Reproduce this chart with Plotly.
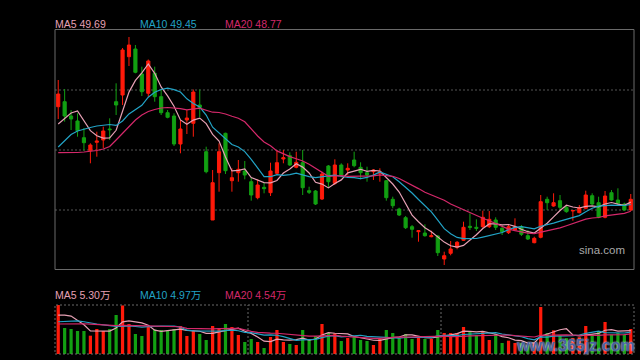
import plotly.graph_objects as go

# ---------------- data (price panel) ----------------
day_index = list(range(90))

open_px = [59.23, 59.73, 58.30, 57.80, 56.13, 54.83, 55.67, 55.90, 57.00, 59.73,
           60.40, 64.23, 65.00, 62.50, 60.57, 62.57, 60.23, 58.63, 58.30, 55.50,
           57.90, 57.57, 59.40, 54.73, 47.90, 52.63, 56.57, 51.83, 52.63, 52.80,
           51.73, 50.13, 51.17, 50.63, 52.57, 54.00, 54.33, 53.17, 53.63, 50.83,
           50.80, 50.00, 53.30, 51.57, 53.40, 52.90, 53.90, 53.17, 52.63, 52.73,
           52.57, 51.83, 49.97, 49.00, 48.13, 47.23, 46.73, 46.60, 46.23, 46.30,
           44.00, 44.57, 45.17, 45.87, 47.27, 47.17, 47.23, 47.23, 47.90, 47.07,
           46.63, 46.90, 47.23, 46.33, 45.63, 46.17, 49.97, 49.30, 49.83, 49.17,
           48.80, 48.63, 49.07, 50.33, 49.63, 48.17, 50.63, 49.90, 49.50, 48.90]

high_px = [61.90, 61.00, 58.90, 58.57, 57.10, 55.57, 56.73, 57.23, 58.07, 61.57,
           65.10, 66.20, 65.40, 63.23, 63.95, 63.23, 60.90, 58.90, 58.57, 57.90,
           58.90, 60.95, 60.95, 55.23, 52.90, 55.57, 56.63, 53.07, 53.90, 53.80,
           52.17, 51.97, 51.63, 53.63, 54.90, 54.90, 54.67, 54.73, 54.90, 51.23,
           50.90, 52.73, 53.40, 53.97, 53.57, 53.57, 54.73, 53.67, 53.23, 52.97,
           53.07, 51.90, 50.23, 49.13, 48.30, 47.40, 46.90, 47.47, 46.83, 46.40,
           44.73, 45.80, 45.80, 47.73, 48.57, 47.97, 48.83, 48.80, 48.17, 47.40,
           47.40, 48.07, 47.40, 46.90, 46.23, 50.40, 50.23, 50.57, 50.40, 49.40,
           48.90, 49.40, 50.83, 50.57, 50.23, 50.80, 50.90, 51.07, 49.63, 50.50]

low_px = [58.00, 57.73, 56.90, 56.23, 54.83, 53.57, 54.23, 55.10, 55.90, 58.40,
          59.40, 63.30, 62.57, 60.30, 60.23, 59.73, 58.40, 58.07, 55.30, 54.57,
          56.50, 56.23, 58.20, 52.57, 47.90, 50.73, 52.50, 50.73, 51.73, 51.97,
          49.83, 49.97, 50.57, 50.30, 52.40, 53.57, 53.30, 53.07, 50.40, 50.50,
          49.40, 49.90, 51.17, 51.40, 52.17, 52.40, 53.17, 51.97, 51.73, 51.90,
          51.73, 49.83, 49.07, 48.30, 47.00, 46.13, 45.73, 46.23, 46.17, 44.30,
          43.40, 44.37, 44.97, 45.80, 46.90, 46.80, 47.13, 47.10, 46.90, 46.40,
          46.50, 46.83, 46.30, 45.90, 45.57, 46.07, 48.90, 49.23, 48.90, 48.63,
          47.83, 48.57, 48.97, 49.40, 48.07, 48.07, 49.83, 49.40, 48.83, 48.80]

close_px = [60.50, 58.30, 58.00, 56.83, 55.63, 55.40, 55.80, 56.80, 56.93, 59.40,
            64.90, 65.40, 62.67, 60.73, 63.80, 60.23, 58.63, 58.17, 55.50, 57.00,
            58.10, 60.70, 59.15, 52.73, 51.63, 54.73, 52.83, 52.13, 52.97, 52.40,
            50.40, 51.40, 51.03, 52.80, 53.63, 54.13, 53.40, 53.67, 51.13, 50.67,
            49.50, 52.50, 51.73, 53.40, 52.40, 53.07, 53.33, 52.63, 52.40, 52.90,
            52.73, 50.13, 49.33, 48.40, 47.13, 46.97, 46.83, 46.33, 46.33, 44.63,
            44.33, 45.00, 45.67, 47.17, 47.17, 47.07, 48.17, 47.97, 47.17, 46.73,
            47.23, 47.23, 46.47, 46.00, 46.07, 49.73, 49.63, 49.63, 49.17, 48.73,
            48.85, 49.13, 50.40, 49.50, 48.17, 50.30, 49.90, 49.57, 48.90, 49.97]

ma5_px = [57.50, 58.05, 58.60, 58.80, 57.85, 56.83, 56.33, 56.09, 56.11, 56.87,
          58.77, 60.69, 61.86, 62.62, 63.50, 62.57, 61.21, 60.31, 59.27, 57.91,
          57.48, 57.89, 58.09, 57.54, 56.46, 55.79, 54.21, 52.81, 52.86, 53.01,
          52.15, 51.86, 51.64, 51.61, 51.85, 52.60, 53.00, 53.53, 53.19, 52.60,
          51.67, 51.49, 51.11, 51.56, 51.91, 52.62, 52.79, 52.97, 52.77, 52.87,
          52.80, 52.16, 51.50, 50.70, 49.54, 48.39, 47.73, 47.13, 46.72, 46.22,
          45.69, 45.32, 45.19, 45.36, 45.87, 46.42, 47.05, 47.51, 47.51, 47.42,
          47.45, 47.27, 46.97, 46.73, 46.60, 47.10, 47.58, 48.21, 48.85, 49.38,
          49.20, 49.10, 49.26, 49.32, 49.21, 49.50, 49.65, 49.49, 49.37, 49.69]

ma10_px = [55.20, 55.85, 56.45, 56.80, 57.00, 57.15, 57.30, 57.40, 57.45, 57.36,
           57.80, 58.51, 58.98, 59.37, 60.18, 60.67, 60.95, 61.09, 60.94, 60.70,
           60.02, 59.55, 59.20, 58.40, 57.18, 56.63, 56.05, 55.45, 55.20, 54.74,
           53.97, 53.04, 52.23, 52.23, 52.43, 52.37, 52.43, 52.58, 52.40, 52.23,
           52.14, 52.25, 52.32, 52.38, 52.25, 52.15, 52.14, 52.04, 52.16, 52.39,
           52.71, 52.47, 52.23, 51.73, 51.21, 50.60, 49.95, 49.32, 48.71, 47.88,
           47.04, 46.53, 46.16, 46.04, 46.04, 46.05, 46.19, 46.35, 46.44, 46.65,
           46.94, 47.16, 47.24, 47.12, 47.01, 47.28, 47.42, 47.59, 47.79, 47.99,
           48.15, 48.34, 48.73, 49.08, 49.29, 49.35, 49.38, 49.37, 49.35, 49.45]

ma20_px = [54.63, 54.62, 54.62, 54.65, 54.70, 54.75, 54.85, 55.00, 55.25, 55.90,
           56.60, 57.30, 57.90, 58.40, 58.75, 58.95, 59.10, 59.15, 59.12, 59.03,
           58.91, 59.03, 59.09, 58.88, 58.68, 58.65, 58.50, 58.27, 58.07, 57.72,
           56.99, 56.30, 55.71, 55.32, 54.81, 54.50, 54.24, 54.02, 53.80, 53.48,
           53.05, 52.64, 52.27, 52.30, 52.34, 52.26, 52.28, 52.31, 52.28, 52.31,
           52.42, 52.36, 52.27, 52.05, 51.73, 51.37, 51.04, 50.68, 50.44, 50.13,
           49.88, 49.50, 49.20, 48.89, 48.62, 48.32, 48.07, 47.83, 47.57, 47.26,
           46.99, 46.84, 46.70, 46.58, 46.53, 46.67, 46.80, 46.97, 47.11, 47.32,
           47.54, 47.75, 47.99, 48.10, 48.15, 48.31, 48.40, 48.48, 48.57, 48.77]

# ---------------- data (volume panel, unit: 万) ----------------
volume_wan = [11.10, 5.89, 5.66, 5.21, 5.21, 4.15, 5.66, 5.21, 5.66, 8.83,
              11.00, 6.80, 4.53, 4.08, 6.12, 5.51, 5.44, 5.29, 5.66, 6.34,
              4.08, 5.21, 4.53, 3.17, 6.34, 5.81, 6.80, 6.12, 4.30, 2.72,
              3.40, 2.72, 1.36, 3.85, 5.44, 2.72, 2.27, 2.04, 5.44, 3.17,
              4.08, 6.80, 4.76, 4.68, 2.94, 3.62, 3.85, 3.17, 2.94, 2.04,
              3.40, 5.44, 4.76, 3.62, 4.53, 3.40, 3.62, 3.40, 3.40, 5.44,
              4.76, 4.76, 4.76, 6.12, 5.21, 4.30, 5.21, 3.17, 4.53, 2.49,
              3.02, 2.49, 2.50, 2.00, 2.50, 10.65, 4.76, 5.36, 4.23, 3.60,
              3.60, 3.80, 6.34, 4.38, 5.13, 7.25, 4.38, 4.76, 4.38, 5.66]

vol_ma5 = [8.80, 8.80, 8.60, 7.70, 6.61, 5.22, 5.18, 5.09, 5.18, 5.90,
           7.27, 7.50, 7.36, 7.05, 6.51, 5.41, 5.14, 5.29, 5.60, 5.65,
           5.36, 5.32, 5.16, 4.67, 4.67, 5.01, 5.33, 5.65, 5.87, 5.15,
           4.67, 3.85, 2.90, 2.81, 3.35, 3.22, 3.13, 3.26, 3.58, 3.13,
           3.40, 4.31, 4.85, 4.70, 4.65, 4.56, 3.97, 3.65, 3.30, 3.12,
           3.08, 3.40, 3.72, 3.85, 4.35, 4.35, 3.99, 3.71, 3.67, 3.85,
           4.12, 4.35, 4.62, 5.17, 5.12, 5.03, 5.12, 4.80, 4.48, 3.94,
           3.68, 3.14, 3.01, 2.50, 2.50, 4.03, 4.48, 5.05, 5.50, 5.72,
           4.31, 4.12, 4.31, 4.34, 4.65, 5.38, 5.50, 5.18, 5.18, 5.30]

vol_ma10 = [7.30, 7.35, 7.45, 7.50, 7.30, 7.00, 6.80, 6.60, 6.40, 6.26,
            6.25, 6.34, 6.23, 6.11, 6.20, 6.34, 6.32, 6.33, 6.33, 6.08,
            5.39, 5.23, 5.23, 5.14, 5.16, 5.19, 5.32, 5.41, 5.27, 4.91,
            4.84, 4.59, 4.27, 4.34, 4.25, 3.94, 3.49, 3.08, 3.20, 3.24,
            3.31, 3.72, 4.06, 4.14, 3.89, 3.98, 4.14, 4.25, 4.00, 3.89,
            3.82, 3.68, 3.68, 3.58, 3.74, 3.72, 3.69, 3.72, 3.76, 4.10,
            4.24, 4.17, 4.17, 4.42, 4.49, 4.58, 4.74, 4.71, 4.83, 4.53,
            4.36, 4.13, 3.90, 3.49, 3.22, 3.86, 3.81, 4.03, 4.00, 4.11,
            4.17, 4.30, 4.68, 4.92, 5.19, 4.85, 4.81, 4.75, 4.76, 4.97]

vol_ma20 = [6.80, 6.85, 6.90, 6.90, 6.85, 6.75, 6.65, 6.55, 6.50, 6.45,
            6.50, 6.50, 6.45, 6.40, 6.35, 6.30, 6.30, 6.25, 6.20, 6.17,
            5.82, 5.78, 5.73, 5.62, 5.68, 5.76, 5.82, 5.87, 5.80, 5.49,
            5.11, 4.91, 4.75, 4.74, 4.70, 4.57, 4.41, 4.24, 4.23, 4.07,
            4.07, 4.15, 4.17, 4.24, 4.07, 3.96, 3.81, 3.67, 3.60, 3.56,
            3.56, 3.70, 3.87, 3.86, 3.81, 3.85, 3.92, 3.98, 3.88, 3.99,
            4.03, 3.93, 3.93, 4.00, 4.11, 4.15, 4.21, 4.21, 4.29, 4.32,
            4.30, 4.15, 4.04, 3.96, 3.85, 4.22, 4.27, 4.37, 4.41, 4.32,
            4.26, 4.22, 4.29, 4.21, 4.20, 4.35, 4.31, 4.39, 4.38, 4.54]

price_labels = ["MA5 49.69", "MA10 49.45", "MA20 48.77"]
volume_labels = ["MA5 5.30万", "MA10 4.97万", "MA20 4.54万"]
grid_prices = [60.9, 54.9, 48.9]
volume_dividers = [29.5, 59.5]

# ---------------- styles ----------------
RED = "#ff1a0a"
GREEN = "#12a012"
C_MA5 = "#e6a0b4"
C_MA10 = "#22a3c6"
C_MA20 = "#d4286a"
W, H = 640, 360
px_x = lambda p: p / W
px_y = lambda p: 1 - p / H

fig = go.Figure()

fig.add_trace(go.Candlestick(
    x=day_index, open=open_px, high=high_px, low=low_px, close=close_px,
    increasing=dict(line=dict(color=RED, width=1), fillcolor=RED),
    decreasing=dict(line=dict(color=GREEN, width=1), fillcolor=GREEN),
    whiskerwidth=0, showlegend=False, hoverinfo="skip",
    xaxis="x", yaxis="y"))

for series, col in [(ma5_px, C_MA5), (ma10_px, C_MA10), (ma20_px, C_MA20)]:
    fig.add_trace(go.Scatter(x=day_index, y=series, mode="lines",
                             line=dict(color=col, width=1.2),
                             showlegend=False, hoverinfo="skip",
                             xaxis="x", yaxis="y"))

bar_colors = [RED if c >= o else GREEN for o, c in zip(open_px, close_px)]
fig.add_trace(go.Bar(x=day_index, y=volume_wan, width=0.5,
                     marker=dict(color=bar_colors, line=dict(width=0)),
                     showlegend=False, hoverinfo="skip",
                     xaxis="x2", yaxis="y2"))

for series, col in [(vol_ma5, C_MA5), (vol_ma10, C_MA10), (vol_ma20, C_MA20)]:
    fig.add_trace(go.Scatter(x=day_index, y=series, mode="lines",
                             line=dict(color=col, width=1.2),
                             showlegend=False, hoverinfo="skip",
                             xaxis="x2", yaxis="y2"))

x_dom = [px_x(55), px_x(634)]
axis_common = dict(showgrid=False, zeroline=False, showticklabels=False,
                   ticks="", showline=False, fixedrange=True)

shapes = []
shapes.append(dict(type="rect", xref="x domain", yref="y domain",
                   x0=0, x1=1, y0=0, y1=1,
                   line=dict(color="#6a6a6a", width=1), layer="above"))
for gp in grid_prices:
    shapes.append(dict(type="line", xref="x domain", yref="y",
                       x0=0, x1=1, y0=gp, y1=gp,
                       line=dict(color="#555555", width=1, dash="2px,2px"),
                       layer="below"))
shapes.append(dict(type="rect", xref="x2 domain", yref="y2 domain",
                   x0=0, x1=1, y0=0, y1=1,
                   line=dict(color="#6a6a6a", width=1, dash="2px,2px"),
                   layer="above"))
for vx in volume_dividers:
    shapes.append(dict(type="line", xref="x2", yref="y2 domain",
                       x0=vx, x1=vx, y0=0, y1=1,
                       line=dict(color="#6a6a6a", width=1, dash="2px,2px"),
                       layer="below"))

annotations = []
label_font = "Liberation Sans, Arial, Noto Sans CJK SC, sans-serif"
for txt, xp, col in zip(price_labels, [53, 138, 223], [C_MA5, C_MA10, C_MA20]):
    annotations.append(dict(text=txt, xref="paper", yref="paper",
                            x=px_x(xp), y=px_y(24), xanchor="left", yanchor="middle",
                            showarrow=False, font=dict(family=label_font, size=10.5, color=col)))
for txt, xp, col in zip(volume_labels, [53, 138, 223], [C_MA5, C_MA10, C_MA20]):
    annotations.append(dict(text=txt, xref="paper", yref="paper",
                            x=px_x(xp), y=px_y(295), xanchor="left", yanchor="middle",
                            showarrow=False, font=dict(family=label_font, size=10.5, color=col)))
annotations.append(dict(text="sina.com", xref="paper", yref="paper",
                        x=px_x(602), y=px_y(249.5), xanchor="center", yanchor="middle",
                        showarrow=False,
                        font=dict(family=label_font, size=11.5, color="#a8a8a8")))
annotations.append(dict(text="<b>www.365jz.com</b>", xref="paper", yref="paper",
                        x=px_x(575), y=px_y(345), xanchor="center", yanchor="middle",
                        showarrow=False,
                        font=dict(family="Liberation Sans, sans-serif",
                                  size=16, color="rgba(60,90,160,0.92)",
                                  shadow="0px 0px 2px #ffffff")))

fig.update_layout(
    width=W, height=H,
    margin=dict(l=0, r=0, t=0, b=0),
    paper_bgcolor="#000000", plot_bgcolor="#000000",
    showlegend=False, hovermode=False, boxgap=0.3, dragmode=False,
    xaxis=dict(domain=x_dom, range=[-0.5, 89.5], anchor="y",
               rangeslider=dict(visible=False), **axis_common),
    yaxis=dict(domain=[px_y(269.5), px_y(29.5)], range=[42.95, 66.95],
               anchor="x", **axis_common),
    xaxis2=dict(domain=x_dom, range=[-0.5, 89.5], anchor="y2", **axis_common),
    yaxis2=dict(domain=[px_y(354), px_y(305)], range=[0, 11.1],
                anchor="x2", **axis_common),
    shapes=shapes, annotations=annotations,
)

fig.write_html("out.html", config={"displayModeBar": False, "staticPlot": True})

# remove the browser's default page margin so the 640x360 figure sits at the origin
with open("out.html", "r", encoding="utf-8") as fh:
    page = fh.read()
page = page.replace("<head>", "<head><style>html,body{margin:0;padding:0;background:#000;overflow:hidden;}</style>", 1)
with open("out.html", "w", encoding="utf-8") as fh:
    fh.write(page)
